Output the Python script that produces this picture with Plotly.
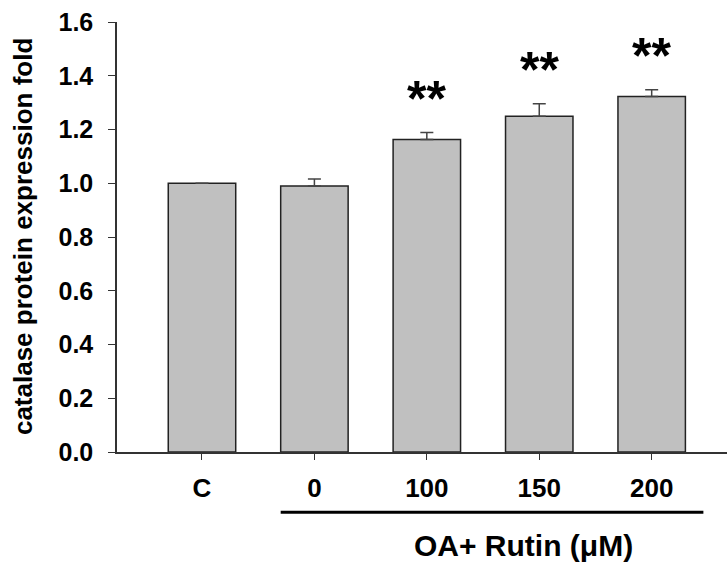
import plotly.graph_objects as go

categories = ["C", "0", "100", "150", "200"]
values = [1.0, 0.99, 1.163, 1.249, 1.323]
errors = [0.0, 0.026, 0.026, 0.047, 0.025]
signif = ["", "", "**", "**", "**"]
y_ticks = [0.0, 0.2, 0.4, 0.6, 0.8, 1.0, 1.2, 1.4, 1.6]

FONT = "Liberation Sans, Arial, sans-serif"

fig = go.Figure()
fig.add_trace(go.Bar(
    x=list(range(len(categories))), y=values, width=0.6,
    marker=dict(color="#c0c0c0", line=dict(color="#222222", width=1.5)),
    error_y=dict(type="data", symmetric=False, array=errors,
                 arrayminus=[0] * len(errors), color="#444444",
                 thickness=1.5, width=6.5, visible=True),
    showlegend=False,
))

for i, (v, e, s) in enumerate(zip(values, errors, signif)):
    if s:
        fig.add_annotation(x=i, y=v + e + 0.125, text="<b>" + s + "</b>",
                           showarrow=False, yanchor="middle", xanchor="center",
                           font=dict(family=FONT, size=50, color="black"))

fig.add_shape(type="line", xref="x", yref="paper", x0=0.7, x1=4.46,
              y0=-0.14, y1=-0.14, line=dict(color="black", width=3))

fig.add_annotation(x=2.86, xref="x", y=-0.218, yref="paper",
                   text="<b>OA+ Rutin (\u03bcM)</b>", showarrow=False,
                   yanchor="middle", xanchor="center",
                   font=dict(family=FONT, size=30, color="black"))

fig.add_annotation(x=-0.154, xref="paper", y=0.5, yref="paper",
                   text="<b>catalase protein expression fold</b>", showarrow=False,
                   textangle=-90, xanchor="center", yanchor="middle",
                   font=dict(family=FONT, size=26, color="black"))

fig.update_xaxes(
    range=[-0.756, 4.67], tickmode="array",
    tickvals=list(range(len(categories))), ticktext=["<b>%s</b>" % c for c in categories],
    ticks="outside", ticklen=6, tickwidth=1.2, tickcolor="#333333",
    showline=True, linecolor="#333333", linewidth=1.5, showgrid=False, zeroline=False,
    tickfont=dict(family=FONT, size=26, color="black"), ticklabelstandoff=6,
)
fig.update_yaxes(
    range=[0, 1.6], tickmode="array", tickvals=y_ticks,
    ticktext=["<b>%.1f</b>" % t for t in y_ticks],
    ticks="outside", ticklen=7, tickwidth=1.2, tickcolor="#333333",
    showline=True, linecolor="#333333", linewidth=1.5, showgrid=False, zeroline=False,
    tickfont=dict(family=FONT, size=25, color="black"), ticklabelstandoff=10,
)
fig.update_layout(
    width=727, height=562,
    margin=dict(l=117, r=0, t=22, b=110),
    plot_bgcolor="white", paper_bgcolor="white",
)
fig.write_html("out.html")
